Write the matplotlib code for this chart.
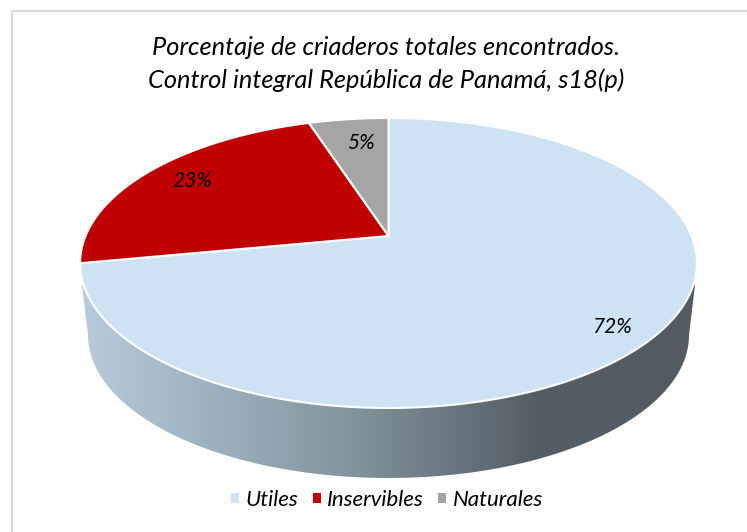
'''Pie chart with the tilted perspective of a spreadsheet 3D pie'''
import numpy as np
import matplotlib
matplotlib.use("Agg")
import matplotlib.pyplot as plt
from matplotlib.colors import LinearSegmentedColormap
from matplotlib.patches import Polygon, Rectangle
from matplotlib.path import Path
from matplotlib.transforms import Transform

plt.rcParams['font.family'] = ['Lato', 'DejaVu Sans']
plt.rcParams['font.style'] = 'italic'

labels = ["Utiles", "Inservibles", "Naturales"]
values = [72, 23, 5]
colors = ["#cfe2f3", "#c00000", "#a5a5a5"]
title = "Porcentaje de criaderos totales encontrados.\nControl integral República de Panamá, s18(p)"

# where the percentages sit, in pixels
label_pos = [(612, 327), (192, 181), (361, 143)]

# geometry of the top ellipse, in pixels
CX, CY = 388.5, 263
RY = 145
TILT = 0.186
KX = 303
APEX = 27


class Tilt(Transform):
    """Projects the unit circle of the pie onto the tilted top face."""
    input_dims = 2
    output_dims = 2

    def transform_non_affine(self, xy):
        xy = np.asarray(xy, dtype=float)
        d = TILT*xy[:, 1] + 1
        return np.column_stack([CX + KX*xy[:, 0]/d, CY - (RY*xy[:, 1] + APEX)/d])

    def transform_path_non_affine(self, path):
        # sample the curves, a projected bezier is not a bezier
        pts = []
        for seg, code in path.iter_bezier():
            if code == Path.MOVETO:
                pts.append(seg.control_points)
            else:
                pts.append(seg(np.linspace(0, 1, 40)))
        return Path(self.transform_non_affine(np.vstack(pts)), closed=True)


fig = plt.figure(figsize=(7.47, 5.32), dpi=100)
ax = fig.add_axes([0, 0, 1, 1])

wedges, _, autotexts = ax.pie(values, colors=colors, startangle=90, counterclock=False,
                              autopct='%.0f%%', wedgeprops={'edgecolor': 'white', 'linewidth': 1.5})
tilt = Tilt() + ax.transData
for w in wedges:
    w.set_transform(tilt)
    w.set_zorder(3)
for t, p in zip(autotexts, label_pos):
    t.set_position(p)
    t.set_fontsize(15)
    t.set_color('black')
    t.set_zorder(4)

# side wall
a = np.linspace(0, np.pi, 300)
lower_x = 388.5 + 300.5*np.cos(a)
lower_y = 335 + 143*np.sin(a)
wall = np.column_stack([np.r_[695, lower_x, 82], np.r_[285, lower_y, 285]])
wall = np.vstack([wall, [[388, 240]]])
cmap = LinearSegmentedColormap.from_list('wall', [(0, '#b9cbda'), (0.195, '#a0b3c1'), (0.44, '#83949c'),
                                                  (0.65, '#626e77'), (0.74, '#555d65'), (1, '#535a62')])
img = ax.imshow(np.linspace(0, 1, 512)[None, :], cmap=cmap, extent=(80, 697, 480, 240),
                aspect='auto', zorder=2)
patch = Polygon(wall, closed=True, transform=ax.transData, facecolor='none', edgecolor='none')
ax.add_patch(patch)
img.set_clip_path(patch)

# chart frame runs off the right and bottom of the picture
ax.add_patch(Rectangle((11.5, 10.5), 800, 600, facecolor='none', edgecolor='#d9d9d9', linewidth=1.5, zorder=1))

ax.set_aspect('auto')
ax.set_xlim(0, 747)
ax.set_ylim(532, 0)
ax.axis('off')

ax.text(386, 64, title, ha='center', va='center', fontsize=18.3, linespacing=1.45, color='black')

leg = ax.legend(wedges, labels, ncol=3, loc='center', bbox_to_anchor=(387/747, 1 - 500/532),
                frameon=False, fontsize=16, handlelength=0.36, handleheight=0.36,
                handletextpad=0.3, columnspacing=0.65, labelcolor='black')
for h in leg.get_patches():
    h.set_linewidth(0)

fig.savefig('out.png', dpi=100)
